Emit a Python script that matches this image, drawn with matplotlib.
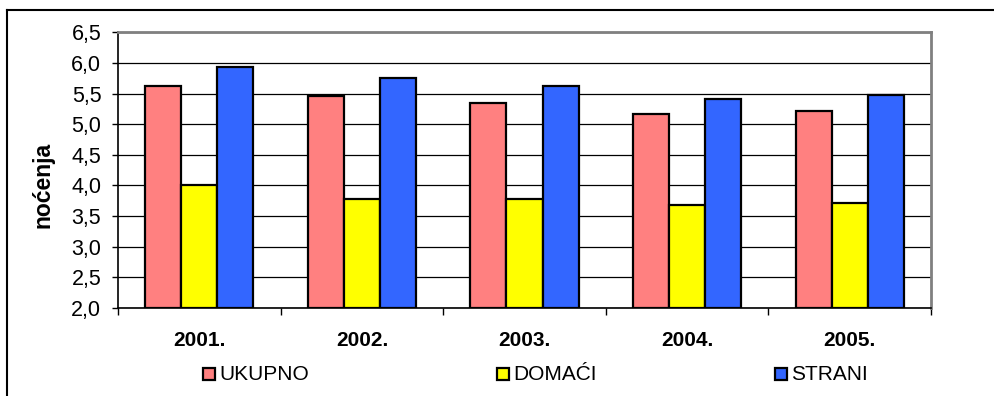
import matplotlib
matplotlib.use("Agg")
import matplotlib.pyplot as plt
from matplotlib.patches import Rectangle
from matplotlib.lines import Line2D
import numpy as np

plt.rcParams['font.family'] = ['Liberation Sans', 'DejaVu Sans']

years = ["2001.", "2002.", "2003.", "2004.", "2005."]
series_names = ["UKUPNO", "DOMAĆI", "STRANI"]
ukupno = [5.62, 5.46, 5.34, 5.16, 5.22]
domaci = [4.00, 3.78, 3.77, 3.67, 3.71]
strani = [5.93, 5.76, 5.62, 5.41, 5.48]
colors = ["#FF8080", "#FFFF00", "#3366FF"]
y_ticks = [2.0, 2.5, 3.0, 3.5, 4.0, 4.5, 5.0, 5.5, 6.0, 6.5]
y_label = "noćenja"

W, H = 994, 396
fig = plt.figure(figsize=(W / 100, H / 100), dpi=100)

# plot area in pixel coordinates
left, right, top, bottom = 118, 931, 32.3, 307.7
ax = fig.add_axes([left / W, (H - bottom) / H, (right - left) / W, (bottom - top) / H])

x = np.arange(len(years))
bw = 0.222
for i, (vals, c) in enumerate(zip([ukupno, domaci, strani], colors)):
    ax.bar(x + (i - 1) * bw, np.array(vals) - 2.0, bottom=2.0, width=bw,
           color=c, edgecolor="black", linewidth=1.6, zorder=3)

ax.set_xlim(-0.5, len(years) - 0.5)
ax.set_ylim(2.0, 6.5)
ax.set_yticks(y_ticks)
ax.set_yticklabels([f"{v:.1f}".replace(".", ",") for v in y_ticks], fontsize=15.5)
ax.yaxis.grid(True, color="black", linewidth=0.9, zorder=0)
ax.set_axisbelow(True)

ax.set_xticks(x)
ax.set_xticklabels(years, fontsize=15, fontweight="bold")
ax.set_xticks(np.arange(len(years) + 1) - 0.5, minor=True)
ax.tick_params(axis="x", which="major", length=0, pad=17)
ax.tick_params(axis="x", which="minor", length=5, width=1, direction="out", color="black")
ax.tick_params(axis="y", length=4, width=1, direction="out", pad=8, color="black")

for s in ["left", "bottom"]:
    ax.spines[s].set_color("black")
    ax.spines[s].set_linewidth(1.2)
for s in ["top", "right"]:
    ax.spines[s].set_color("#808080")
    ax.spines[s].set_linewidth(2.0)

fig.text(43 / W, (H - 185) / H, y_label, rotation=90, fontsize=16.5,
         fontweight="bold", ha="center", va="center")

# legend row
legend_x = [203, 497, 775]
ly = 374
sq = 12
for name, c, lx in zip(series_names, colors, legend_x):
    fig.add_artist(Rectangle((lx / W, (H - ly - sq / 2) / H), sq / W, sq / H,
                             facecolor=c, edgecolor="black", linewidth=1.6,
                             transform=fig.transFigure))
    fig.text((lx + sq + 4) / W, (H - ly) / H, name, fontsize=15,
             ha="left", va="center")

# chart frame
fig.add_artist(Line2D([7 / W, 1.0], [(H - 10) / H] * 2, color="black",
                      linewidth=1.5, transform=fig.transFigure))
fig.add_artist(Line2D([7 / W] * 2, [0, (H - 10) / H], color="black",
                      linewidth=1.5, transform=fig.transFigure))

fig.savefig("out.png", dpi=100)
